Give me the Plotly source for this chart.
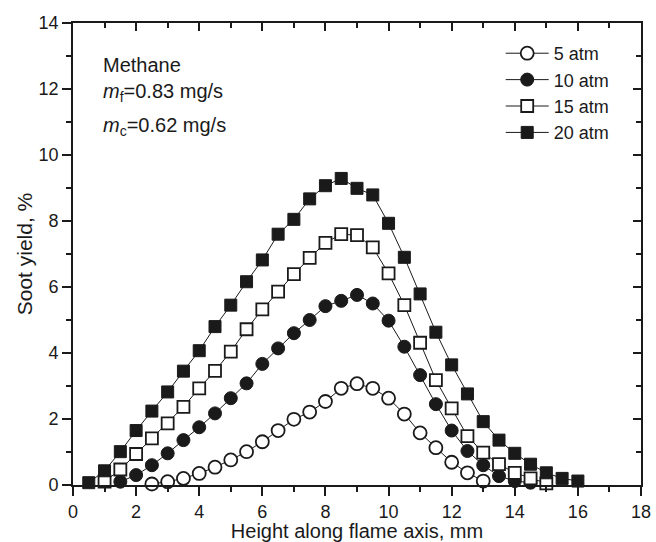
import plotly.graph_objects as go

# ---- data ----
x_5 = [2.5, 3, 3.5, 4, 4.5, 5, 5.5, 6, 6.5, 7, 7.5, 8, 8.5, 9, 9.5, 10, 10.5, 11, 11.5, 12, 12.5, 13]
y_5 = [0.03, 0.10, 0.20, 0.35, 0.54, 0.76, 1.01, 1.31, 1.65, 1.99, 2.21, 2.53, 2.93, 3.07, 2.93, 2.63, 2.15, 1.58, 1.13, 0.69, 0.37, 0.12]

x_10 = [1.5, 2, 2.5, 3, 3.5, 4, 4.5, 5, 5.5, 6, 6.5, 7, 7.5, 8, 8.5, 9, 9.5, 10, 10.5, 11, 11.5, 12, 12.5, 13, 13.5, 14, 14.5]
y_10 = [0.10, 0.30, 0.60, 0.96, 1.36, 1.75, 2.17, 2.63, 3.08, 3.67, 4.14, 4.60, 5.00, 5.42, 5.58, 5.76, 5.50, 4.98, 4.19, 3.33, 2.45, 1.65, 1.03, 0.60, 0.27, 0.12, 0.07]

x_15 = [1, 1.5, 2, 2.5, 3, 3.5, 4, 4.5, 5, 5.5, 6, 6.5, 7, 7.5, 8, 8.5, 9, 9.5, 10, 10.5, 11, 11.5, 12, 12.5, 13, 13.5, 14, 14.5, 15]
y_15 = [0.10, 0.47, 0.94, 1.41, 1.87, 2.37, 2.93, 3.46, 4.04, 4.72, 5.32, 5.86, 6.39, 6.88, 7.34, 7.60, 7.57, 7.20, 6.41, 5.45, 4.31, 3.18, 2.32, 1.48, 0.98, 0.63, 0.37, 0.20, 0.05]

x_20 = [0.5, 1, 1.5, 2, 2.5, 3, 3.5, 4, 4.5, 5, 5.5, 6, 6.5, 7, 7.5, 8, 8.5, 9, 9.5, 10, 10.5, 11, 11.5, 12, 12.5, 13, 13.5, 14, 14.5, 15, 15.5, 16]
y_20 = [0.07, 0.43, 1.01, 1.65, 2.24, 2.82, 3.45, 4.07, 4.80, 5.45, 6.16, 6.82, 7.60, 8.05, 8.67, 9.07, 9.29, 8.99, 8.79, 7.93, 6.90, 5.79, 4.63, 3.64, 2.76, 1.92, 1.36, 0.96, 0.63, 0.37, 0.20, 0.12]

series_names = ["5 atm", "10 atm", "15 atm", "20 atm"]
x_title = "Height along flame axis, mm"
y_title = "Soot yield, %"
notes = ["Methane", "<i>m</i><sub>f</sub>=0.83 mg/s", "<i>m</i><sub>c</sub>=0.62 mg/s"]

FONT = "Liberation Sans, Arial, sans-serif"
BLACK = "#1a1a1a"

styles = [
    dict(symbol="circle", open=True, size=13),
    dict(symbol="circle", open=False, size=13),
    dict(symbol="square", open=True, size=12),
    dict(symbol="square", open=False, size=12),
]

fig = go.Figure()
for name, xs, ys, st in zip(series_names, [x_5, x_10, x_15, x_20], [y_5, y_10, y_15, y_20], styles):
    if st["open"]:
        marker = dict(symbol=st["symbol"], size=st["size"], color="white",
                      line=dict(color=BLACK, width=1.8))
    else:
        marker = dict(symbol=st["symbol"], size=st["size"], color=BLACK, line=dict(color=BLACK, width=1))
    fig.add_trace(go.Scatter(x=xs, y=ys, mode="lines+markers", name=name, legendgroup=name,
                             line=dict(color=BLACK, width=1), marker=marker, cliponaxis=False))

axis_common = dict(showline=True, linecolor=BLACK, linewidth=1.8, showgrid=False, zeroline=False,
                   automargin=False,
                   tickcolor=BLACK, tickwidth=1.5, tickfont=dict(family=FONT, size=18, color=BLACK))

fig.update_layout(
    width=656, height=542,
    margin=dict(l=73, r=15, t=23, b=57, autoexpand=False),
    paper_bgcolor="white", plot_bgcolor="white",
    font=dict(family=FONT, color=BLACK),
    xaxis=dict(range=[0, 18], dtick=2, tick0=0, ticks="outside", ticklen=9,
               minor=dict(dtick=1, ticks="outside", ticklen=5, tickcolor=BLACK, tickwidth=1.5),
               title=dict(text=x_title, font=dict(family=FONT, size=20, color=BLACK), standoff=5),
               **axis_common),
    yaxis=dict(range=[0, 14], dtick=2, tick0=0, ticks="outside", ticklen=9,
               minor=dict(dtick=1, ticks="outside", ticklen=5, tickcolor=BLACK, tickwidth=1.5),
               title=dict(text=y_title, font=dict(family=FONT, size=21, color=BLACK), standoff=0),
               **axis_common),
    xaxis2=dict(overlaying="x", side="top", anchor="y", range=[0, 18], dtick=2, tick0=0,
                ticks="inside", ticklen=8, showticklabels=False, automargin=False,
                minor=dict(dtick=1, ticks="inside", ticklen=5, tickcolor=BLACK, tickwidth=1.5),
                showline=True, linecolor=BLACK, linewidth=1.8, showgrid=False, zeroline=False,
                tickcolor=BLACK, tickwidth=1.5),
    yaxis2=dict(overlaying="y", side="right", anchor="x", range=[0, 14], dtick=2, tick0=0,
                ticks="inside", ticklen=8, showticklabels=False, automargin=False,
                minor=dict(dtick=1, ticks="inside", ticklen=5, tickcolor=BLACK, tickwidth=1.5),
                showline=True, linecolor=BLACK, linewidth=1.8, showgrid=False, zeroline=False,
                tickcolor=BLACK, tickwidth=1.5),
    legend=dict(x=0.753, y=0.974, xanchor="left", yanchor="top", bgcolor="rgba(0,0,0,0)",
                font=dict(family=FONT, size=18, color=BLACK), tracegroupgap=0, itemwidth=43),
    showlegend=True,
)

# invisible trace so the mirrored axes are rendered
fig.add_trace(go.Scatter(x=[None], y=[None], xaxis="x2", yaxis="y2", showlegend=False, hoverinfo="skip"))

note_y = [0.909, 0.849, 0.777]
for txt, yy in zip(notes, note_y):
    fig.add_annotation(text=txt, x=0.05, y=yy, xref="paper", yref="paper", xanchor="left", yanchor="middle",
                       showarrow=False, font=dict(family=FONT, size=20, color=BLACK))

fig.write_html("out.html", config={"displayModeBar": False},
               post_script="document.body.style.margin='0';document.body.style.padding='0';")
